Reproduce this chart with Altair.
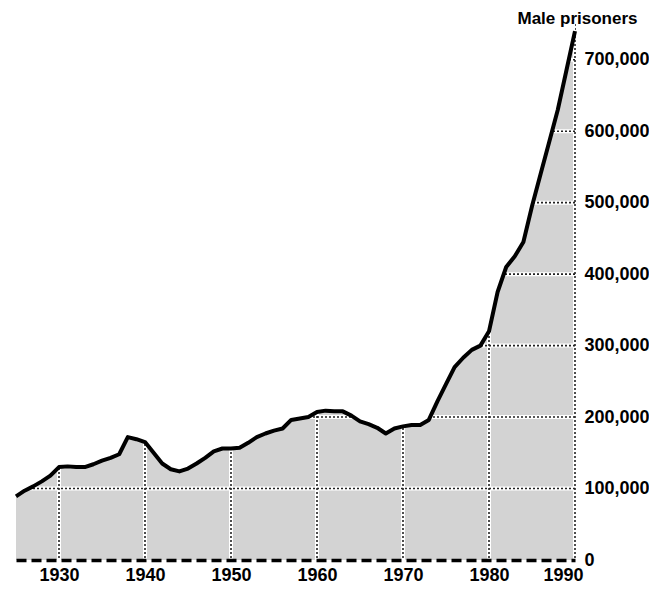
import altair as alt
import pandas as pd

years = list(range(1925, 1991))
prisoners = [89000, 97000, 103000, 110000, 118000, 130000, 131000, 130000, 130000, 134000,
             139000, 143000, 148000, 172000, 169000, 165000, 150000, 135000, 127000, 124000,
             128000, 135000, 143000, 152000, 156000, 156000, 157000, 164000, 172000, 177000,
             181000, 184000, 196000, 198000, 200000, 207000, 209000, 208000, 208000, 202000,
             194000, 190000, 185000, 177000, 184000, 187000, 189000, 189000, 196000, 222000,
             246000, 270000, 283000, 294000, 300000, 320000, 375000, 410000, 425000, 445000,
             495000, 540000, 585000, 630000, 685000, 740000]

grid_years = [1930, 1940, 1950, 1960, 1970, 1980, 1990]
grid_values = [0, 100000, 200000, 300000, 400000, 500000, 600000, 700000]
title_text = "Male prisoners"

df = pd.DataFrame({"year": years, "prisoners": prisoners})
FONT = "Liberation Sans"

X = alt.X("year:Q",
          scale=alt.Scale(domain=[1925, 1990], nice=False, zero=False),
          axis=alt.Axis(values=grid_years, format="d", title=None, grid=False, ticks=False,
                        labelFont=FONT, labelFontSize=18, labelFontWeight="bold",
                        labelColor="black", labelPadding=6, labelFlush=False,
                        labelOffset={"condition": {"test": "datum.value === 1990", "value": -12},
                                     "value": 0},
                        domainDash=[10, 5], domainWidth=3.5, domainColor="black",
                        zindex=1))
Y = alt.Y("prisoners:Q",
          scale=alt.Scale(domain=[0, 750000], nice=False),
          axis=alt.Axis(orient="right", values=grid_values, format=",d", grid=False,
                        ticks=False, domain=False, labelAlign="left", labelBaseline="middle",
                        labelPadding=9, labelFont=FONT, labelFontSize=18,
                        labelFontWeight="bold", labelColor="black",
                        title=title_text, titleAngle=0, titleAlign="right",
                        titleBaseline="middle", titleX=62, titleY=-6,
                        titleFont=FONT, titleFontSize=17, titleFontWeight="bold",
                        titleColor="black", zindex=1))

base = alt.Chart(df)
area = base.mark_area(color="#d3d3d3").encode(x=X, y=Y)

vdf = pd.DataFrame({"year": grid_years})
hdf = pd.DataFrame({"prisoners": grid_values[1:]})
v_halo = alt.Chart(vdf).mark_rule(color="white", strokeWidth=4).encode(x=X)
h_halo = alt.Chart(hdf).mark_rule(color="white", strokeWidth=4).encode(y=Y)
vrules = alt.Chart(vdf).mark_rule(
    color="#222222", strokeDash=[2, 2], strokeWidth=1.6).encode(x=X)
hrules = alt.Chart(hdf).mark_rule(
    color="#222222", strokeDash=[2, 2], strokeWidth=1.6).encode(y=Y)
mask = base.transform_calculate(top="750000").mark_area(color="white").encode(
    x=X, y=Y, y2="top:Q")
line = base.mark_line(color="black", strokeWidth=4, strokeJoin="round").encode(x=X, y=Y)

chart = alt.layer(area, v_halo, h_halo, vrules, hrules, mask, line).properties(
    width=559, height=536,
    padding={"left": 8, "top": 16, "right": 74, "bottom": 24},
    autosize=alt.AutoSizeParams(type="none"),
    background="white",
).configure_view(stroke=None)

chart.save("out.html", embed_options={"renderer": "svg", "actions": False})
